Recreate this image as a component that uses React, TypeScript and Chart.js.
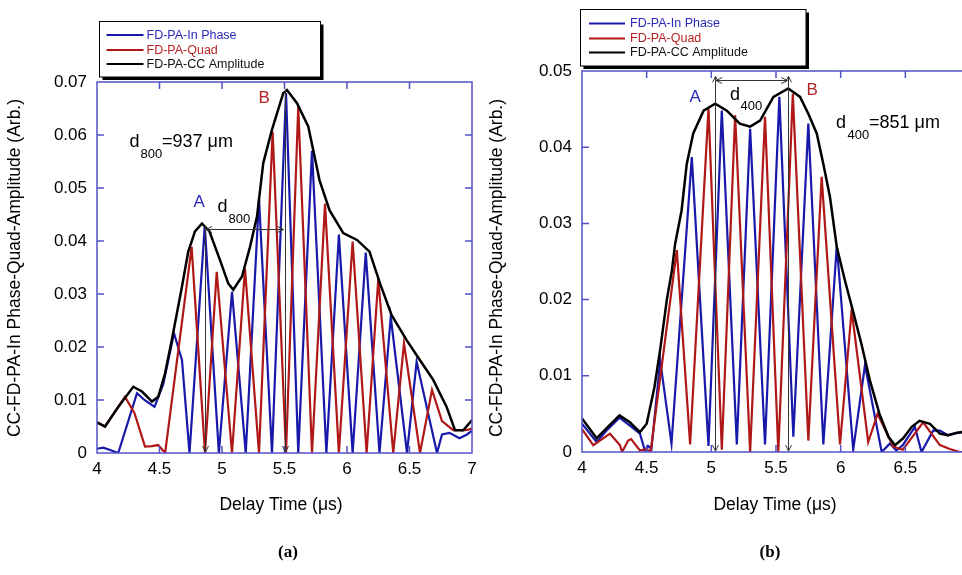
import React, { useEffect, useRef } from 'react';
import { Chart, registerables } from 'chart.js';

Chart.register(...registerables);

type Pt = [number, number];

// ---------- axes / labels ----------
const X_TICKS = [4, 4.5, 5, 5.5, 6, 6.5, 7];
const Y_TICKS_A = [0, 0.01, 0.02, 0.03, 0.04, 0.05, 0.06, 0.07];
const Y_TICKS_B = [0, 0.01, 0.02, 0.03, 0.04, 0.05];
const SERIES_LABELS = ['FD-PA-In Phase', 'FD-PA-Quad', 'FD-PA-CC Amplitude'];
const X_TITLE = 'Delay Time (\u03bcs)';
const Y_TITLE = 'CC-FD-PA-In Phase-Quad-Amplitude (Arb.)';

// ---------- panel (a) data: [delay time us, amplitude] ----------
const A_IN_PHASE: Pt[] = [
  [4.0, 0.0008], [4.05, 0.001], [4.1, 0.0006], [4.17, 0.0], [4.32, 0.0113], [4.38, 0.01],
  [4.46, 0.0087], [4.53, 0.013], [4.616, 0.0226], [4.68, 0.0175], [4.74, 0.0], [4.862, 0.0428],
  [4.975, 0.0], [5.08, 0.0304], [5.19, 0.0], [5.296, 0.048], [5.4, 0.0], [5.512, 0.0679],
  [5.61, 0.0], [5.72, 0.057], [5.835, 0.0], [5.935, 0.0412], [6.045, 0.0], [6.15, 0.0378],
  [6.26, 0.0], [6.35, 0.0257], [6.48, 0.0], [6.557, 0.0172], [6.72, 0.0], [6.76, 0.0035],
  [6.82, 0.0038], [6.9, 0.0028], [6.96, 0.0035], [7.0, 0.0042],
];
const A_QUAD: Pt[] = [
  [4.0, 0.0058], [4.064, 0.005], [4.17, 0.0087], [4.224, 0.0106], [4.3, 0.0075], [4.384, 0.0012],
  [4.44, 0.0013], [4.49, 0.0015], [4.545, 0.0], [4.757, 0.0389], [4.864, 0.0], [4.958, 0.0342],
  [5.08, 0.0], [5.184, 0.0348], [5.296, 0.0], [5.405, 0.0606], [5.512, 0.0], [5.61, 0.0653],
  [5.72, 0.0], [5.824, 0.047], [5.935, 0.0], [6.045, 0.0399], [6.157, 0.0], [6.25, 0.0328],
  [6.37, 0.0], [6.456, 0.0207], [6.584, 0.0], [6.68, 0.0119], [6.76, 0.006], [6.85, 0.0043],
  [6.95, 0.0043], [7.0, 0.0046],
];
const A_AMPLITUDE: Pt[] = [
  [4.0, 0.0058], [4.064, 0.005], [4.17, 0.0087], [4.29, 0.0125], [4.36, 0.0116], [4.44, 0.0097],
  [4.49, 0.0106], [4.544, 0.015], [4.6, 0.0215], [4.68, 0.0314], [4.73, 0.038], [4.784, 0.0418],
  [4.84, 0.0433], [4.9, 0.0418], [4.984, 0.0364], [5.05, 0.032], [5.09, 0.0308], [5.16, 0.0333],
  [5.224, 0.0389], [5.28, 0.0446], [5.33, 0.0547], [5.4, 0.061], [5.49, 0.0679], [5.52, 0.0685],
  [5.6, 0.066], [5.69, 0.0616], [5.78, 0.0515], [5.86, 0.0458], [5.97, 0.0415], [6.08, 0.0402],
  [6.18, 0.038], [6.264, 0.032], [6.357, 0.026], [6.477, 0.0213], [6.584, 0.0175], [6.69, 0.0138],
  [6.797, 0.0087], [6.864, 0.0043], [6.93, 0.0043], [7.0, 0.0062],
];

// ---------- panel (b) data ----------
const B_IN_PHASE: Pt[] = [
  [4.0, 0.0037], [4.113, 0.0013], [4.2, 0.003], [4.29, 0.0045], [4.383, 0.0033], [4.448, 0.0024],
  [4.486, 0.0002], [4.51, 0.0008], [4.537, 0.0004], [4.605, 0.012], [4.692, 0.0011], [4.849, 0.0387],
  [4.978, 0.0008], [5.081, 0.0448], [5.197, 0.001], [5.3, 0.0424], [5.415, 0.001], [5.526, 0.0466],
  [5.634, 0.002], [5.75, 0.0431], [5.866, 0.001], [5.97, 0.0271], [6.097, 0.0003], [6.188, 0.0114],
  [6.317, 0.0], [6.38, 0.0011], [6.43, 0.0002], [6.48, 0.0009], [6.574, 0.0033], [6.625, 0.0],
  [6.715, 0.0028], [6.767, 0.0028], [6.83, 0.0022], [6.895, 0.0025], [6.96, 0.0026], [7.0, 0.0027],
];
const B_QUAD: Pt[] = [
  [4.0, 0.003], [4.087, 0.0009], [4.216, 0.0024], [4.293, 0.0009], [4.31, 0.0], [4.357, 0.0015],
  [4.38, 0.0017], [4.448, 0.0002], [4.5, 0.0004], [4.53, 0.0], [4.733, 0.0265], [4.836, 0.001],
  [4.978, 0.0451], [5.081, 0.0003], [5.184, 0.0442], [5.3, 0.0], [5.415, 0.044], [5.518, 0.0],
  [5.63, 0.047], [5.75, 0.0015], [5.853, 0.0361], [5.995, 0.001], [6.085, 0.0186], [6.213, 0.0013],
  [6.285, 0.005], [6.406, 0.0007], [6.48, 0.0003], [6.52, 0.0012], [6.638, 0.0039], [6.767, 0.0009],
  [6.844, 0.0004], [6.92, 0.0], [7.0, 0.0],
];
const B_AMPLITUDE: Pt[] = [
  [4.0, 0.0044], [4.113, 0.0018], [4.2, 0.0033], [4.29, 0.0048], [4.37, 0.0039], [4.448, 0.0026],
  [4.5, 0.0037], [4.56, 0.0085], [4.605, 0.0135], [4.656, 0.02], [4.695, 0.0238], [4.72, 0.0273],
  [4.77, 0.0317], [4.81, 0.0378], [4.86, 0.0418], [4.94, 0.0448], [5.03, 0.0457], [5.12, 0.0448],
  [5.22, 0.0431], [5.3, 0.0427], [5.377, 0.0435], [5.48, 0.0466], [5.595, 0.0477], [5.686, 0.0466],
  [5.75, 0.0444], [5.815, 0.0418], [5.866, 0.0378], [5.917, 0.0335], [5.97, 0.0269], [6.033, 0.0225],
  [6.1, 0.0182], [6.16, 0.0142], [6.226, 0.0094], [6.3, 0.005], [6.37, 0.002], [6.42, 0.0009],
  [6.483, 0.0018], [6.55, 0.0033], [6.61, 0.0041], [6.69, 0.0037], [6.767, 0.0024], [6.83, 0.0022],
  [6.895, 0.0025], [6.96, 0.0027], [7.0, 0.0028],
];

// ---------- annotation values (data units) ----------
const A_MARKS = { aX: 4.864, aTop: 0.0428, bX: 5.5, bTop: 0.0686, arrowY: 0.0422, topHeads: false };
const B_MARKS = { aX: 5.03, aTop: 0.0493, bX: 5.595, bTop: 0.0493, arrowY: 0.0488, topHeads: true };
const A_DIST = { sub: '800', value: '=937 \u03bcm' };
const B_DIST = { sub: '400', value: '=851 \u03bcm' };

// ---------- styling ----------
const FONT = "'Liberation Sans', Arial, Helvetica, sans-serif";
const SERIF = "'Liberation Serif', 'Times New Roman', serif";
const BLUE = '#1818aa';
const RED = '#b01818';
const BLACK = '#000000';
const FRAME = '#5252c8';
const TEXT_COLORS = ['#2a2ab8', '#b42424', '#111111'];
const H = 575;

interface Panel {
  pageLeft: number;
  canvasW: number;
  area: { l: number; r: number; t: number; b: number };
  yTicks: number[];
  series: Pt[][];
  marks: typeof A_MARKS;
  dist: typeof A_DIST;
  legendBox: [number, number, number, number];
  legendRows: [number, number, number];
  legendLine: [number, number];
  legendTextX: number;
  yTitleX: number;
  xTitleX: number;
  caption: string;
  captionX: number;
  labelA: [number, number];
  labelB: [number, number];
  midD: [number, number];
  midSub: [number, number];
  distD: [number, number];
  distSub: [number, number];
  distVal: [number, number];
}

const PANEL_A: Panel = {
  pageLeft: 0, canvasW: 500,
  area: { l: 97, r: 472, t: 82, b: 453 },
  yTicks: Y_TICKS_A,
  series: [A_IN_PHASE, A_QUAD, A_AMPLITUDE],
  marks: A_MARKS, dist: A_DIST,
  legendBox: [99.5, 21.5, 320.5, 77],
  legendRows: [35, 50, 64],
  legendLine: [106.5, 143.5],
  legendTextX: 146.5,
  yTitleX: 15, xTitleX: 281,
  caption: '(a)', captionX: 288,
  labelA: [193.5, 206.5], labelB: [258.5, 103],
  midD: [217.5, 211.5], midSub: [228.5, 222.5],
  distD: [129.5, 147], distSub: [140.5, 157.5], distVal: [162, 147],
};

const PANEL_B: Panel = {
  pageLeft: 480, canvasW: 510,
  area: { l: 582, r: 970, t: 71, b: 452 },
  yTicks: Y_TICKS_B,
  series: [B_IN_PHASE, B_QUAD, B_AMPLITUDE],
  marks: B_MARKS, dist: B_DIST,
  legendBox: [580.5, 9.5, 806, 66],
  legendRows: [23.5, 38.5, 52.5],
  legendLine: [589, 625],
  legendTextX: 630,
  yTitleX: 497, xTitleX: 775,
  caption: '(b)', captionX: 770,
  labelA: [689.5, 101.5], labelB: [806.5, 95],
  midD: [730, 100], midSub: [740.5, 110],
  distD: [836, 128], distSub: [847.5, 138.5], distVal: [869, 128],
};

function decorPlugin(p: Panel) {
  return {
    id: 'decor',
    afterDraw(chart: any) {
      const ctx: CanvasRenderingContext2D = chart.ctx;
      const ca = chart.chartArea;
      const xs = chart.scales.x;
      const ys = chart.scales.y;
      const X = (v: number) => xs.getPixelForValue(v);
      const Y = (v: number) => ys.getPixelForValue(v);
      const L = p.pageLeft;
      ctx.save();

      // frame + inward ticks on all sides
      ctx.strokeStyle = FRAME;
      ctx.lineWidth = 1.5;
      ctx.strokeRect(ca.left, ca.top, ca.right - ca.left, ca.bottom - ca.top);
      ctx.beginPath();
      X_TICKS.slice(1, -1).forEach((v) => {
        const x = X(v);
        ctx.moveTo(x, ca.bottom); ctx.lineTo(x, ca.bottom - 7);
        ctx.moveTo(x, ca.top); ctx.lineTo(x, ca.top + 7);
      });
      p.yTicks.slice(1, -1).forEach((v) => {
        const y = Y(v);
        ctx.moveTo(ca.left, y); ctx.lineTo(ca.left + 7, y);
        ctx.moveTo(ca.right, y); ctx.lineTo(ca.right - 7, y);
      });
      ctx.stroke();

      // markers
      const m = p.marks;
      ctx.strokeStyle = '#333';
      ctx.lineWidth = 1;
      const head = (x: number, y: number, dx: number, dy: number) => {
        const s = 6;
        const nx = -dy, ny = dx;
        ctx.moveTo(x, y);
        ctx.lineTo(x - dx * s + nx * 3, y - dy * s + ny * 3);
        ctx.moveTo(x, y);
        ctx.lineTo(x - dx * s - nx * 3, y - dy * s - ny * 3);
      };
      ctx.beginPath();
      [[m.aX, m.aTop], [m.bX, m.bTop]].forEach(([xv, tv]) => {
        const x = Math.round(X(xv)) + 0.5;
        const y0 = Y(tv);
        const y1 = Y(0) - 1;
        ctx.moveTo(x, y0); ctx.lineTo(x, y1);
        head(x, y1, 0, 1);
        if (m.topHeads) head(x, y0, 0, -1);
      });
      const ay = Math.round(Y(m.arrowY)) + 0.5;
      const ax0 = X(m.aX) + 1, ax1 = X(m.bX) - 1;
      ctx.moveTo(ax0, ay); ctx.lineTo(ax1, ay);
      head(ax0, ay, -1, 0);
      head(ax1, ay, 1, 0);
      ctx.stroke();

      // text labels
      ctx.textBaseline = 'alphabetic';
      ctx.textAlign = 'left';
      ctx.font = `17px ${FONT}`;
      ctx.fillStyle = '#2a2ab8';
      ctx.fillText('A', p.labelA[0] - L, p.labelA[1]);
      ctx.fillStyle = '#b42424';
      ctx.fillText('B', p.labelB[0] - L, p.labelB[1]);
      ctx.fillStyle = '#000';
      ctx.font = `18px ${FONT}`;
      ctx.fillText('d', p.midD[0] - L, p.midD[1]);
      ctx.fillText('d', p.distD[0] - L, p.distD[1]);
      ctx.fillText(p.dist.value, p.distVal[0] - L, p.distVal[1]);
      ctx.font = `13px ${FONT}`;
      ctx.fillText(p.dist.sub, p.midSub[0] - L, p.midSub[1]);
      ctx.fillText(p.dist.sub, p.distSub[0] - L, p.distSub[1]);

      // legend
      const [bx0, by0, bx1, by1] = p.legendBox;
      ctx.fillStyle = '#000';
      ctx.fillRect(bx0 - L + 3, by0 + 3, bx1 - bx0, by1 - by0);
      ctx.fillStyle = '#fff';
      ctx.fillRect(bx0 - L, by0, bx1 - bx0, by1 - by0);
      ctx.strokeStyle = '#000';
      ctx.lineWidth = 1;
      ctx.strokeRect(bx0 - L, by0, bx1 - bx0, by1 - by0);
      ctx.font = `12.5px ${FONT}`;
      ctx.textBaseline = 'middle';
      chart.data.datasets.forEach((d: any, i: number) => {
        const y = p.legendRows[i];
        ctx.strokeStyle = d.borderColor;
        ctx.lineWidth = 2;
        ctx.beginPath();
        ctx.moveTo(p.legendLine[0] - L, y);
        ctx.lineTo(p.legendLine[1] - L, y);
        ctx.stroke();
        ctx.fillStyle = TEXT_COLORS[i];
        ctx.fillText(d.label, p.legendTextX - L, y + 0.5);
      });

      // axis titles
      ctx.fillStyle = '#000';
      ctx.font = `17.5px ${FONT}`;
      ctx.textAlign = 'center';
      ctx.textBaseline = 'middle';
      ctx.fillText(X_TITLE, p.xTitleX - L, 505);
      ctx.save();
      ctx.translate(p.yTitleX - L, 268);
      ctx.rotate(-Math.PI / 2);
      ctx.fillText(Y_TITLE, 0, 0);
      ctx.restore();

      // caption
      ctx.font = `bold 17px ${SERIF}`;
      ctx.fillText(p.caption, p.captionX - L, 553);
      ctx.restore();
    },
  };
}

function makeChart(canvas: HTMLCanvasElement, p: Panel) {
  const colors = [BLUE, RED, BLACK];
  const widths = [2.2, 2.2, 2.5];
  const datasets = p.series.map((s, i) => ({
    label: SERIES_LABELS[i],
    data: s.map(([x, y]) => ({ x, y })),
    borderColor: colors[i],
    backgroundColor: colors[i],
    borderWidth: widths[i],
    pointRadius: 0,
    tension: 0,
    fill: false,
    order: 2 - i,
  }));
  const yMax = p.yTicks[p.yTicks.length - 1];
  return new Chart(canvas, {
    type: 'line',
    data: { datasets },
    options: {
      animation: false,
      responsive: false,
      devicePixelRatio: 1,
      events: [],
      layout: {
        padding: { left: 0, top: p.area.t, right: p.pageLeft + p.canvasW - p.area.r, bottom: 0 },
      },
      plugins: { legend: { display: false }, tooltip: { enabled: false } },
      scales: {
        x: {
          type: 'linear',
          min: X_TICKS[0],
          max: X_TICKS[X_TICKS.length - 1],
          afterBuildTicks: (s: any) => { s.ticks = X_TICKS.map((v) => ({ value: v })); },
          afterFit: (s: any) => { s.height = H - p.area.b; },
          grid: { display: false, drawTicks: false },
          border: { display: false },
          ticks: {
            padding: 6,
            color: '#000',
            autoSkip: false,
            maxRotation: 0,
            font: { family: FONT, size: 17 },
            callback: (v: any) => String(v),
          },
        },
        y: {
          type: 'linear',
          min: 0,
          max: yMax,
          afterBuildTicks: (s: any) => { s.ticks = p.yTicks.map((v) => ({ value: v })); },
          afterFit: (s: any) => { s.width = p.area.l - p.pageLeft; },
          grid: { display: false, drawTicks: false },
          border: { display: false },
          ticks: {
            padding: 10,
            color: '#000',
            autoSkip: false,
            font: { family: FONT, size: 17 },
            callback: (v: any) => (Number(v) === 0 ? '0' : Number(v).toFixed(2)),
          },
        },
      },
    } as any,
    plugins: [decorPlugin(p)],
  });
}

function PanelCanvas({ p }: { p: Panel }) {
  const ref = useRef<HTMLCanvasElement | null>(null);
  useEffect(() => {
    if (!ref.current) return;
    const c = makeChart(ref.current, p);
    return () => c.destroy();
  }, [p]);
  return (
    <canvas
      ref={ref}
      width={p.canvasW}
      height={H}
      style={{ position: 'absolute', left: p.pageLeft, top: 0, width: p.canvasW, height: H }}
    />
  );
}

export default function App() {
  return (
    <div
      style={{
        position: 'fixed', left: 0, top: 0, width: 962, height: H,
        overflow: 'hidden', background: '#ffffff',
      }}
    >
      <PanelCanvas p={PANEL_A} />
      <PanelCanvas p={PANEL_B} />
    </div>
  );
}
